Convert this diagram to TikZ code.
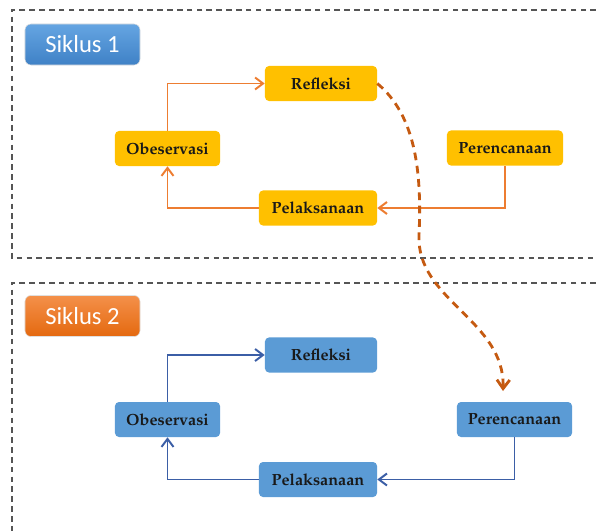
\documentclass[tikz,border=0pt]{standalone}
\usepackage{fontspec}
\newfontfamily\judulfont{Carlito}
\usetikzlibrary{arrows.meta,positioning}
\definecolor{emas}{HTML}{FFC000}
\definecolor{biru}{HTML}{5B9BD5}
\definecolor{birutua}{HTML}{3B5EA6}
\definecolor{oranye}{HTML}{ED7D31}
\definecolor{coklat}{HTML}{C55A11}
\definecolor{abu}{HTML}{555555}
\definecolor{biruatas}{HTML}{65A5E2}
\definecolor{birubawah}{HTML}{3F81C6}
\definecolor{oranyeatas}{HTML}{F4904A}
\definecolor{oranyebawah}{HTML}{E4690F}

\tikzset{
  tahap/.style={rounded corners=0.1cm, minimum height=0.875cm, inner sep=0pt,
    font=\usefont{OT1}{ppl}{b}{n}\fontsize{11.5}{13}\selectfont, text=black!90},
  tahapA/.style={tahap, fill=emas},
  tahapB/.style={tahap, fill=biru},
  siklus/.style={rounded corners=0.15cm, minimum width=2.875cm, minimum height=1.025cm,
    font=\judulfont\fontsize{17.5}{20}\selectfont, text=white, draw=white!75!gray, line width=0.4pt},
  panahA/.style={oranye, line width=1.4pt, -{Straight Barb[length=2mm,width=3mm]}},
  panahB/.style={birutua, line width=1.4pt, -{Straight Barb[length=2mm,width=3mm]}},
  lompat/.style={coklat, line width=2pt, dash pattern=on 5.5pt off 4pt,
    -{Straight Barb[length=2.2mm,width=3.2mm]}},
  batas/.style={abu, line width=0.9pt, dash pattern=on 4pt off 3pt}
}

\begin{document}
\begin{tikzpicture}[x=0.025cm,y=-0.025cm]
   \useasboundingbox (0,0) rectangle (596,531);
   % kotak putus-putus
   \draw[batas] (596,10) -- (12,10) -- (12,258) -- (596,258);
   \draw[batas] (596,283) -- (12,283) -- (12,531);
   %
   \node[siklus, top color=biruatas, bottom color=birubawah] (s1) at (82.5,44.5) {Siklus 1};
   \node[siklus, top color=oranyeatas, bottom color=oranyebawah] (s2) at (82.5,316) {Siklus 2};
   %
   \node[tahapA, minimum width=2.8cm] (ref1) at (321,83.5) {Refleksi};
   \node[tahapA, minimum width=2.625cm] (obs1) at (167.5,148.5) {Obeservasi};
   \node[tahapA, minimum width=2.9cm] (per1) at (505,148) {Perencanaan};
   \node[tahapA, minimum width=2.95cm] (pel1) at (318,208) {Pelaksanaan};
   %
   \node[tahapB, minimum width=2.8cm] (ref2) at (321,355) {Refleksi};
   \node[tahapB, minimum width=2.625cm] (obs2) at (167.5,419.5) {Obeservasi};
   \node[tahapB, minimum width=2.875cm] (per2) at (514.5,419.5) {Perencanaan};
   \node[tahapB, minimum width=2.95cm] (pel2) at (318,479.5) {Pelaksanaan};
   %
   \draw[panahA] (obs1.north) |- (ref1.west);
   \draw[panahA] (pel1.west) -| (obs1.south);
   \draw[panahA] (per1.south) |- (pel1.east);
   %
   \draw[panahB] (obs2.north) |- (ref2.west);
   \draw[panahB] (pel2.west) -| (obs2.south);
   \draw[panahB] (per2.south) |- (pel2.east);
   %
   \coordinate (ujung) at (503,391);
   \draw[lompat] (ref1.east) .. controls (415,115) and (422,170) .. (419,235)
      .. controls (416,300) and (505,320) .. (ujung);
   %
\end{tikzpicture}
\end{document}
